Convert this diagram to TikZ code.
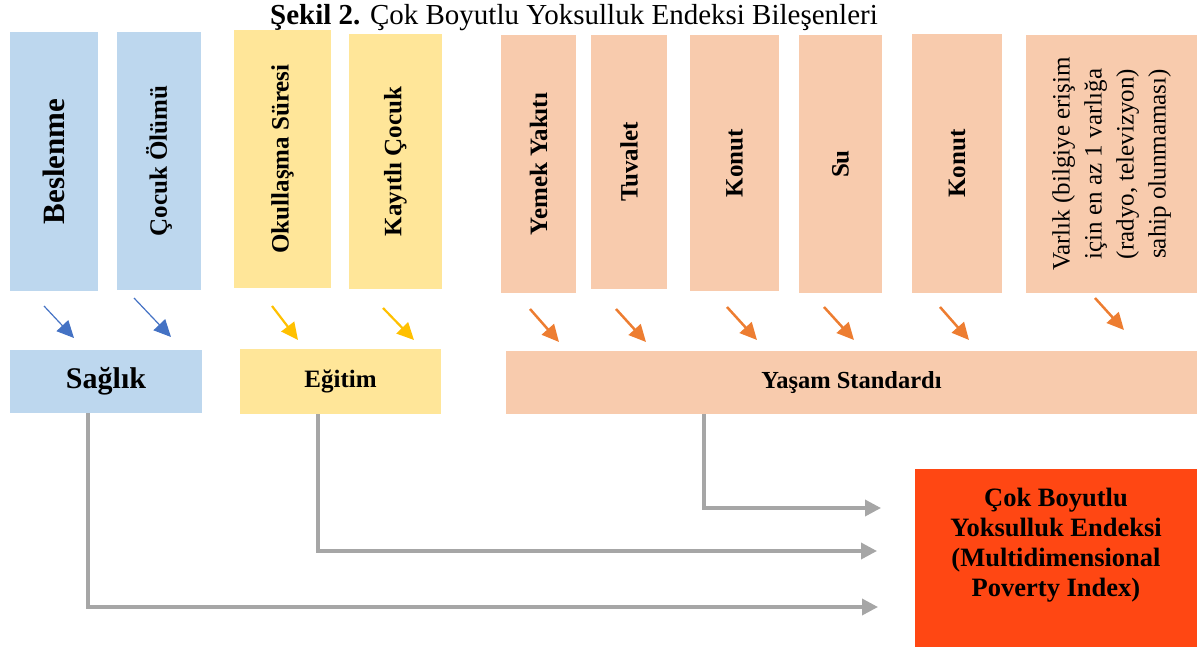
\documentclass[tikz,border=0pt]{standalone}
\usepackage{fontspec}
\setmainfont{Liberation Serif}
\usetikzlibrary{arrows.meta}
\definecolor{cblue}{HTML}{BDD7EE}
\definecolor{cyel}{HTML}{FFE699}
\definecolor{cpeach}{HTML}{F8CBAD}
\definecolor{cred}{HTML}{FF4713}
\definecolor{ablue}{HTML}{4472C4}
\definecolor{ayel}{HTML}{FFC000}
\definecolor{aorange}{HTML}{ED7D31}
\definecolor{cgrey}{HTML}{A6A6A6}
\newcommand\fsz[2]{\fontsize{#1}{#2}\selectfont}
\begin{document}
\begin{tikzpicture}[x=1pt,y=-1pt,
  boxbase/.style={rectangle, inner sep=0pt, outer sep=0pt, align=center},
  bluebox/.style={boxbase, fill=cblue},
  yelbox/.style={boxbase, fill=cyel},
  peachbox/.style={boxbase, fill=cpeach},
  redbox/.style={boxbase, fill=cred},
  vlab/.style={font=\fsz{25}{30}\bfseries},
  hlab/.style={font=\fsz{25}{30}\bfseries},
  barrow/.style={draw=ablue, line width=1.2pt, -{Triangle[length=17pt,width=16pt]}},
  yarrow/.style={draw=ayel, line width=2.2pt, -{Triangle[length=17pt,width=16pt]}},
  oarrow/.style={draw=aorange, line width=2.5pt, -{Triangle[length=17pt,width=16pt]}},
  conn/.style={draw=cgrey, line width=3.5pt, -{Triangle[length=16pt,width=16pt]}},
]
\useasboundingbox (0,0) rectangle (1197,648);

% title
\node[anchor=base, inner sep=0pt] (title) at (574,24) {\fsz{29}{32}\textbf{Şekil 2.} Çok Boyutlu Yoksulluk Endeksi Bileşenleri};

% top row boxes (rotated text)
\node[bluebox, rotate=90, minimum width=259pt, minimum height=88pt, font=\fsz{31}{34}\bfseries] (beslenme) at (54,161.5) {Beslenme};
\node[bluebox, rotate=90, minimum width=258pt, minimum height=84pt, vlab] (cocuk) at (159,161) {Çocuk Ölümü};
\node[yelbox, rotate=90, minimum width=258pt, minimum height=97pt, vlab] (okul) at (282.5,159) {Okullaşma Süresi};
\node[yelbox, rotate=90, minimum width=255pt, minimum height=93pt, vlab] (kayit) at (395.5,161.5) {Kayıtlı Çocuk};
\node[peachbox, rotate=90, minimum width=258pt, minimum height=75pt, vlab] (yemek) at (538.5,164) {Yemek Yakıtı};
\node[peachbox, rotate=90, minimum width=254pt, minimum height=76pt, vlab] (tuvalet) at (629,162) {Tuvalet};
\node[peachbox, rotate=90, minimum width=256pt, minimum height=89pt, vlab] (konut1) at (734.5,163) {Konut};
\node[peachbox, rotate=90, minimum width=258pt, minimum height=83pt, vlab] (su) at (840.5,164) {Su};
\node[peachbox, rotate=90, minimum width=259pt, minimum height=90pt, vlab] (konut2) at (957,163.5) {Konut};
\node[peachbox, rotate=90, minimum width=258pt, minimum height=171pt, font=\fsz{25}{32}] (varlik) at (1111.5,164) {Varlık (bilgiye erişim\\için en az 1 varlığa\\(radyo, televizyon)\\sahip olunmaması)};

% second row
\node[bluebox, minimum width=192pt, minimum height=63pt, font=\fsz{30}{34}\bfseries] (saglik) at (106,381.5) {Sağlık};
\node[yelbox, minimum width=201pt, minimum height=65pt, hlab] (egitim) at (340.5,381.5) {Eğitim};
\node[peachbox, minimum width=691pt, minimum height=63pt, font=\fsz{24.5}{30}\bfseries] (yasam) at (851.5,382.5) {Yaşam Standardı};

% result box
\node[redbox, minimum width=282pt, minimum height=178pt] (mpi) at (1056,558) {};
\node[align=center, inner sep=0pt, font=\fsz{26.5}{30}\bfseries] (mpitext) at (1056,545) {Çok Boyutlu\\Yoksulluk Endeksi\\(Multidimensional\\Poverty Index)};

% small arrows
\coordinate (b1s) at (44,306);   \coordinate (b1e) at (74,338);
\coordinate (b2s) at (134,298);  \coordinate (b2e) at (171,337);
\coordinate (y1s) at (272,306);  \coordinate (y1e) at (298,340);
\coordinate (y2s) at (383,308);  \coordinate (y2e) at (414,340);
\coordinate (o1s) at (530,309);  \coordinate (o1e) at (559,342);
\coordinate (o2s) at (616,309);  \coordinate (o2e) at (646,342);
\coordinate (o3s) at (727,307);  \coordinate (o3e) at (757,340);
\coordinate (o4s) at (824,307);  \coordinate (o4e) at (854,340);
\coordinate (o5s) at (940,307);  \coordinate (o5e) at (969,340);
\coordinate (o6s) at (1095,298); \coordinate (o6e) at (1124,330);
\draw[barrow] (b1s) -- (b1e);
\draw[barrow] (b2s) -- (b2e);
\draw[yarrow] (y1s) -- (y1e);
\draw[yarrow] (y2s) -- (y2e);
\draw[oarrow] (o1s) -- (o1e);
\draw[oarrow] (o2s) -- (o2e);
\draw[oarrow] (o3s) -- (o3e);
\draw[oarrow] (o4s) -- (o4e);
\draw[oarrow] (o5s) -- (o5e);
\draw[oarrow] (o6s) -- (o6e);

% connectors to index
\coordinate (tipY) at (881,508);
\coordinate (tipE) at (877,551);
\coordinate (tipS) at (878,607);
\draw[conn] ([xshift=-18pt]saglik.south) |- (tipS);
\draw[conn] ([xshift=-22.5pt]egitim.south) |- (tipE);
\draw[conn] ([xshift=-147.5pt]yasam.south) |- (tipY);
\end{tikzpicture}
\end{document}
